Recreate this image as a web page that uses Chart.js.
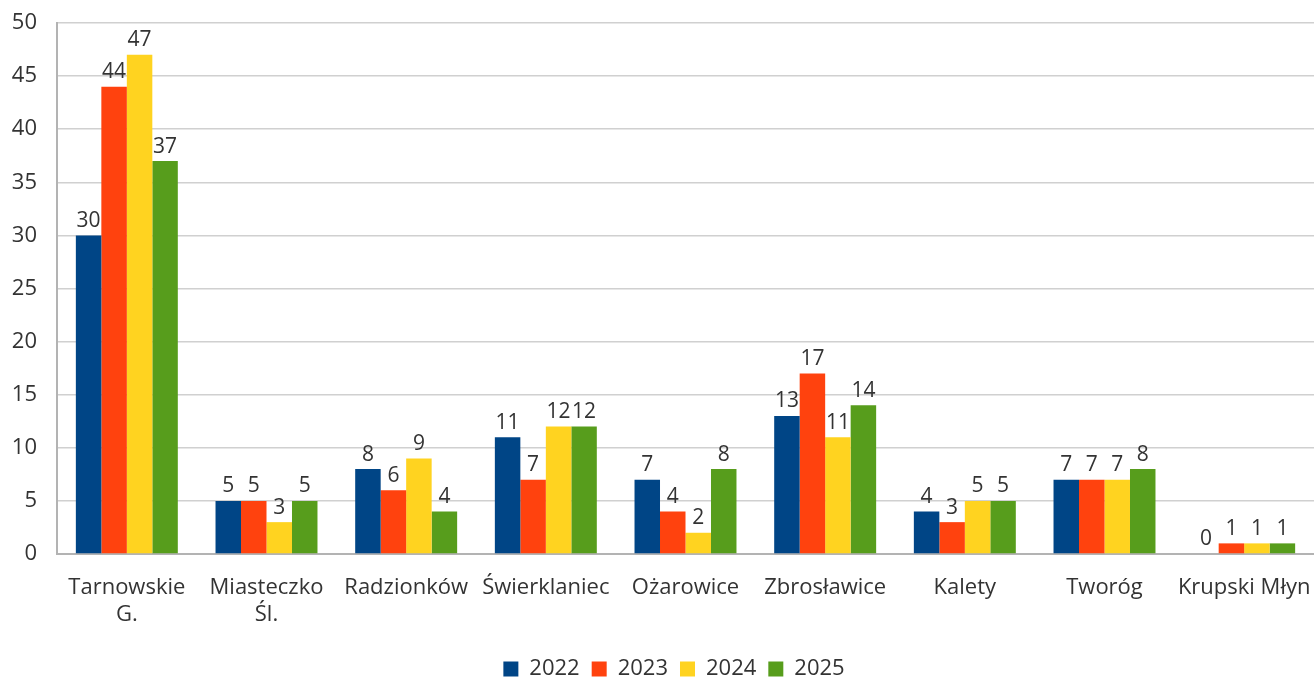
<!DOCTYPE html>
<html>
<head>
<meta charset="utf-8">
<script src="https://cdn.jsdelivr.net/npm/chart.js@4"></script>
<style>
  html, body { margin: 0; padding: 0; background: #fff; }
  #wrap { width: 1314px; height: 677px; }
</style>
</head>
<body>
<div id="wrap"><canvas id="barChart"></canvas></div>
<script>
const categories = [
    ['Tarnowskie', 'G.'], ['Miasteczko', 'Śl.'], 'Radzionków', 'Świerklaniec',
    'Ożarowice', 'Zbrosławice', 'Kalety', 'Tworóg', 'Krupski Młyn'
];
const years = ['2022', '2023', '2024', '2025'];
const values2022 = [30, 5, 8, 11, 7, 13, 4, 7, 0];
const values2023 = [44, 5, 6, 7, 4, 17, 3, 7, 1];
const values2024 = [47, 3, 9, 12, 2, 11, 5, 7, 1];
const values2025 = [37, 5, 4, 12, 8, 14, 5, 8, 1];
const colors = ['#004586', '#ff420e', '#ffd320', '#579d1c'];

const fontFamily = "'Open Sans', 'Noto Sans', sans-serif";

// simple value labels above each bar
const valueLabels = {
    id: 'valueLabels',
    afterDatasetsDraw(chart) {
        const ctx = chart.ctx;
        ctx.save();
        ctx.font = '21px ' + fontFamily;
        ctx.fillStyle = '#333';
        ctx.textAlign = 'center';
        ctx.textBaseline = 'bottom';
        chart.data.datasets.forEach(function (ds, i) {
            const meta = chart.getDatasetMeta(i);
            meta.data.forEach(function (bar, j) {
                ctx.fillText(String(ds.data[j]), bar.x, bar.y - 4);
            });
        });
        ctx.restore();
    }
};

// legend sits a bit right of centre in the original
const legendShift = {
    id: 'legendShift',
    afterLayout(chart) {
        chart.legend.left += 17;
        chart.legend.right += 17;
    }
};

const allValues = [values2022, values2023, values2024, values2025];

new Chart(document.getElementById('barChart'), {
    type: 'bar',
    data: {
        labels: categories,
        datasets: years.map(function (y, i) {
            return {
                label: y,
                data: allValues[i],
                backgroundColor: colors[i],
                borderWidth: 0
            };
        })
    },
    options: {
        responsive: true,
        maintainAspectRatio: false,
        animation: false,
        layout: { padding: { top: 23, right: 0, left: 0, bottom: -13 } },
        datasets: { bar: { categoryPercentage: 0.73, barPercentage: 1 } },
        scales: {
            x: {
                grid: { display: false, drawTicks: false },
                border: { color: '#b3b3b3', width: 2 },
                ticks: { color: '#333', font: { family: fontFamily, size: 22 }, padding: 21, maxRotation: 0, autoSkip: false },
                afterFit: function (scale) {
                    scale.height = 92;
                    scale.paddingLeft = 0;
                    scale.paddingRight = 0;
                }
            },
            y: {
                min: 0,
                max: 50,
                ticks: { stepSize: 5, color: '#333', font: { family: fontFamily, size: 22 }, padding: 20 },
                grid: { color: '#d0d0d0', lineWidth: 1.5, drawTicks: false },
                border: { color: '#b3b3b3', width: 2 },
                afterFit: function (scale) {
                    scale.width = 57;
                    scale.paddingTop = 0;
                    scale.paddingBottom = 0;
                }
            }
        },
        plugins: {
            legend: {
                position: 'bottom',
                labels: {
                    color: '#333',
                    font: { family: fontFamily, size: 22 },
                    boxWidth: 15,
                    boxHeight: 15,
                    padding: 12
                }
            },
            tooltip: { enabled: false }
        }
    },
    plugins: [valueLabels, legendShift]
});
</script>
</body>
</html>
